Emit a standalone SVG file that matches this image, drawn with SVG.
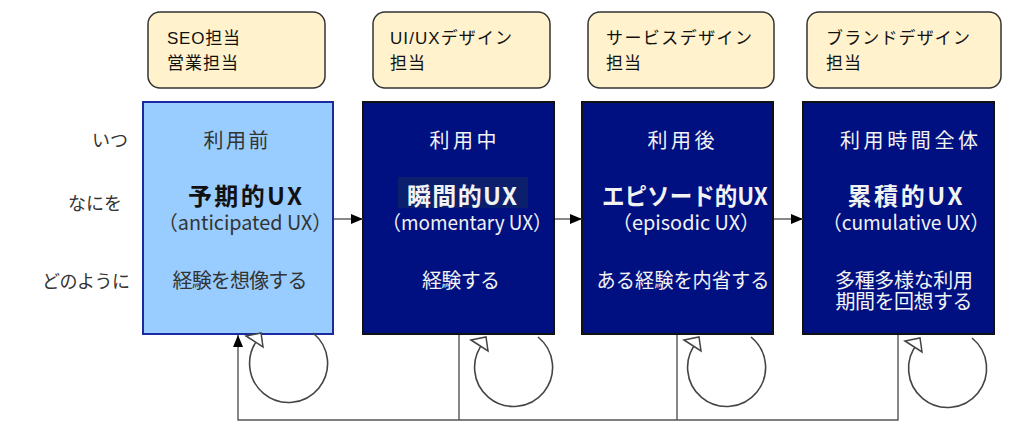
<svg xmlns="http://www.w3.org/2000/svg" width="1024" height="437" viewBox="0 0 1024 437">
<style>
.role rect{fill:#fff2cc;stroke:#333;stroke-width:1.5}
.role text{font-family:"Liberation Sans","Noto Sans CJK JP",sans-serif;font-size:17px;fill:#111}
.lbl{font-family:"Noto Sans CJK JP",sans-serif;font-size:18px;fill:#333}
.t{font-family:"Noto Sans CJK JP",sans-serif;font-size:20px;text-anchor:middle}
.p{font-family:"Noto Sans CJK JP",sans-serif;font-size:20px;text-anchor:middle}
.h{font-family:"Noto Sans CJK JP",sans-serif;font-size:24px;font-weight:bold;text-anchor:middle}
.light .t,.light .p{fill:#333}
.light .h{fill:#111}
.dark .t,.dark .h,.dark .p{fill:#f2f2f2}
.dark rect.box{fill:#001080;stroke:#111;stroke-width:2}
.light rect.box{fill:#99ccff;stroke:#1c2aa0;stroke-width:2}
.conn line,.conn path.l{stroke:#555;stroke-width:1.4;fill:none}
</style>
<defs>
<marker id="ah" viewBox="0 0 12 10" refX="12" refY="5" markerWidth="12" markerHeight="10" markerUnits="userSpaceOnUse" orient="auto">
<path d="M0,0 L12,5 L0,10 z" fill="#000"/>
</marker>
<g id="lp">
<path d="M 26 -29 A 39 39 0 1 1 -28 -24" fill="none" stroke="#444" stroke-width="1.6"/>
<polygon points="-41,-26 -26,-29 -24,-15" fill="#fff" stroke="#444" stroke-width="1.5"/>
</g>
</defs>
<rect width="1024" height="437" fill="#fff"/>

<g id="role-seo" class="role">
<rect x="148" y="12" width="177" height="76" rx="12"/>
<text x="167" y="44" textLength="73" lengthAdjust="spacing">SEO担当</text>
<text x="167" y="69" textLength="71" lengthAdjust="spacing">営業担当</text>
</g>
<g id="role-uiux" class="role">
<rect x="373" y="12" width="177" height="76" rx="12"/>
<text x="390" y="44" textLength="122" lengthAdjust="spacing">UI/UXデザイン</text>
<text x="390" y="69" textLength="35" lengthAdjust="spacing">担当</text>
</g>
<g id="role-service" class="role">
<rect x="588" y="12" width="186" height="76" rx="12"/>
<text x="606" y="44" textLength="146" lengthAdjust="spacing">サービスデザイン</text>
<text x="606" y="69" textLength="35" lengthAdjust="spacing">担当</text>
</g>
<g id="role-brand" class="role">
<rect x="807" y="12" width="194" height="76" rx="12"/>
<text x="826" y="44" textLength="144" lengthAdjust="spacing">ブランドデザイン</text>
<text x="826" y="69" textLength="35" lengthAdjust="spacing">担当</text>
</g>

<g id="row-labels">
<text class="lbl" x="92" y="147" textLength="36" lengthAdjust="spacing">いつ</text>
<text class="lbl" x="68" y="210" textLength="54" lengthAdjust="spacing">なにを</text>
<text class="lbl" x="42" y="288" textLength="88" lengthAdjust="spacing">どのように</text>
</g>

<g id="stage-before" class="light">
<rect class="box" x="143" y="102" width="190" height="232"/>
<text class="t" x="236" y="148" textLength="65" lengthAdjust="spacing">利用前</text>
<text class="h" x="245" y="205" textLength="114" lengthAdjust="spacing">予期的UX</text>
<text class="p" x="245" y="230" textLength="174" lengthAdjust="spacingAndGlyphs">（anticipated UX）</text>
<text class="t" x="240" y="288" textLength="135" lengthAdjust="spacing">経験を想像する</text>
</g>

<g id="stage-during" class="dark">
<rect class="box" x="363" y="102" width="191" height="232"/>
<text class="t" x="463" y="148" textLength="67" lengthAdjust="spacing">利用中</text>
<rect x="398" y="177" width="130" height="31" fill="#0c1f6c"/>
<text class="h" x="462" y="205" textLength="110" lengthAdjust="spacing">瞬間的UX</text>
<text class="p" x="467" y="230" textLength="170" lengthAdjust="spacingAndGlyphs">（momentary UX）</text>
<text class="t" x="461" y="288" textLength="78" lengthAdjust="spacing">経験する</text>
</g>

<g id="stage-after" class="dark">
<rect class="box" x="582" y="102" width="191" height="232"/>
<text class="t" x="681" y="148" textLength="67" lengthAdjust="spacing">利用後</text>
<text class="h" x="685" y="205" textLength="166" lengthAdjust="spacingAndGlyphs">エピソード的UX</text>
<text class="p" x="686" y="230" textLength="148" lengthAdjust="spacingAndGlyphs">（episodic UX）</text>
<text class="t" x="683" y="288" textLength="173" lengthAdjust="spacingAndGlyphs">ある経験を内省する</text>
</g>

<g id="stage-whole" class="dark">
<rect class="box" x="803" y="102" width="191" height="232"/>
<text class="t" x="909" y="148" textLength="138" lengthAdjust="spacing">利用時間全体</text>
<text class="h" x="905" y="205" textLength="115" lengthAdjust="spacing">累積的UX</text>
<text class="p" x="906" y="230" textLength="167" lengthAdjust="spacingAndGlyphs">（cumulative UX）</text>
<text class="t" x="904" y="288" textLength="138" lengthAdjust="spacing">多種多様な利用</text>
<text class="t" x="904" y="309" textLength="137" lengthAdjust="spacing">期間を回想する</text>
</g>

<g id="connectors" class="conn">
<line x1="334" y1="219" x2="363" y2="219" marker-end="url(#ah)"/>
<line x1="555" y1="219" x2="582" y2="219" marker-end="url(#ah)"/>
<line x1="774" y1="219" x2="803" y2="219" marker-end="url(#ah)"/>
<path class="l" d="M459 335 V420 M677 335 V420 M898 335 V420 H238 V335" marker-end="url(#ah)"/>
<use href="#lp" transform="translate(287,362)"/>
<use href="#lp" transform="translate(512,366)"/>
<use href="#lp" transform="translate(725,366)"/>
<use href="#lp" transform="translate(946,367)"/>
</g>
</svg>
